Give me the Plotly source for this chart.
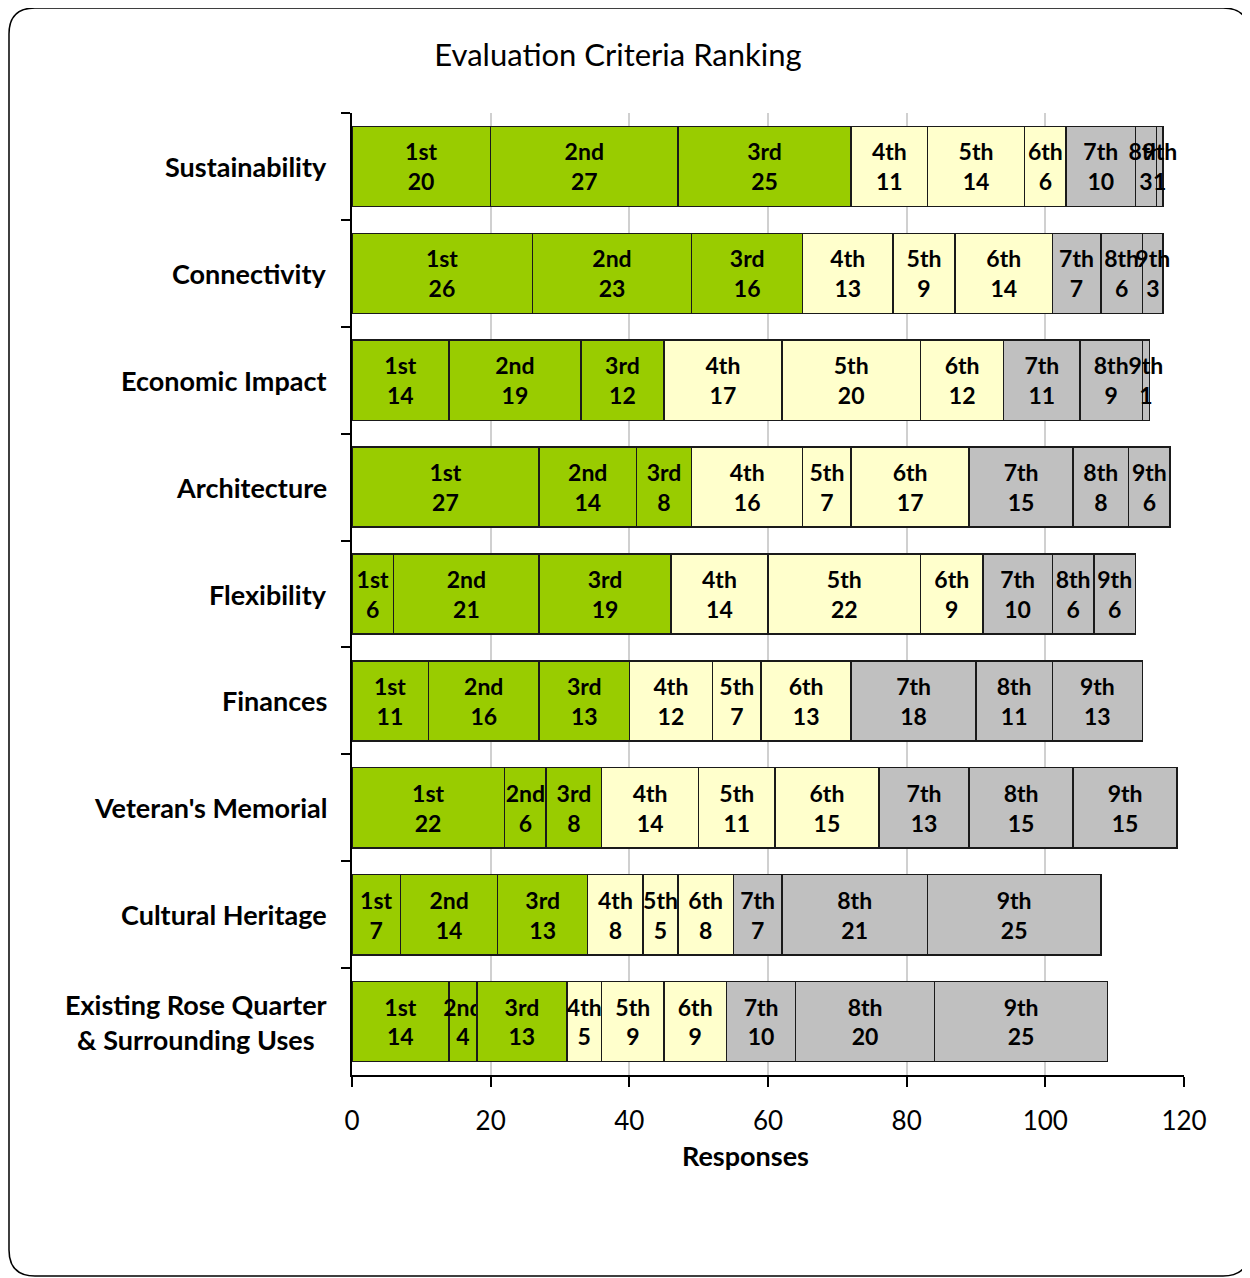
import plotly.graph_objects as go

categories = ["Sustainability", "Connectivity", "Economic Impact", "Architecture",
              "Flexibility", "Finances", "Veteran's Memorial", "Cultural Heritage",
              "Existing Rose Quarter<br>& Surrounding Uses"]
ranks = ["1st", "2nd", "3rd", "4th", "5th", "6th", "7th", "8th", "9th"]
# values[category][rank]
values = {
    "Sustainability":     [20, 27, 25, 11, 14, 6, 10, 3, 1],
    "Connectivity":       [26, 23, 16, 13, 9, 14, 7, 6, 3],
    "Economic Impact":    [14, 19, 12, 17, 20, 12, 11, 9, 1],
    "Architecture":       [27, 14, 8, 16, 7, 17, 15, 8, 6],
    "Flexibility":        [6, 21, 19, 14, 22, 9, 10, 6, 6],
    "Finances":           [11, 16, 13, 12, 7, 13, 18, 11, 13],
    "Veteran's Memorial": [22, 6, 8, 14, 11, 15, 13, 15, 15],
    "Cultural Heritage":  [7, 14, 13, 8, 5, 8, 7, 21, 25],
    "Existing Rose Quarter<br>& Surrounding Uses": [14, 4, 13, 5, 9, 9, 10, 20, 25],
}
rank_colors = ["#99CC00"] * 3 + ["#FFFFCC"] * 3 + ["#C0C0C0"] * 3
x_ticks = [0, 20, 40, 60, 80, 100, 120]

OFF = 8  # page body margin
W, H = 1250 - OFF, 1278 - OFF
L, R, T, B = 352 - OFF, 1184 - OFF, 113 - OFF, 1075 - OFF

FONT = "Lato"

fig = go.Figure()
for i, rk in enumerate(ranks):
    xs = [values[c][i] for c in categories]
    fig.add_trace(go.Bar(
        y=categories, x=xs, orientation="h", name=rk,
        marker=dict(color=rank_colors[i], line=dict(color="#1a1a1a", width=1.5)),
        text=[f"{rk}<br>{v}" for v in xs],
        textposition="inside", insidetextanchor="middle",
        textangle=0,
        textfont=dict(family=FONT, size=23, color="black", weight="bold"),
        constraintext="none", cliponaxis=False,
        hoverinfo="x+y+name",
    ))

def px2paper(x, y):
    # x, y in screenshot pixels
    x -= OFF
    y -= OFF
    return (x - L) / (R - L), (B - y) / (B - T)

def P(x, y):
    px, py = px2paper(x, y)
    return f"{px:.5f},{py:.5f}"

# rounded border
x0, y0, x1, y1, r = 9, 8, 1249, 1276, 26
path = (f"M {P(x0 + r, y0)} L {P(x1 - r, y0)} Q {P(x1, y0)} {P(x1, y0 + r)} "
        f"L {P(x1, y1 - r)} Q {P(x1, y1)} {P(x1 - r, y1)} "
        f"L {P(x0 + r, y1)} Q {P(x0, y1)} {P(x0, y1 - r)} "
        f"L {P(x0, y0 + r)} Q {P(x0, y0)} {P(x0 + r, y0)} Z")
shapes = [dict(type="path", xref="paper", yref="paper", path=path,
               line=dict(color="black", width=1.5), layer="below")]

annotations = []
n = len(categories)
for k, c in enumerate(categories):
    yc = 113 + (k + 0.5) * (1075 - 113) / n
    _, py = px2paper(0, yc)
    annotations.append(dict(xref="paper", yref="paper", x=px2paper(329, 0)[0], y=py,
                            text=f"<b>{c}</b>", showarrow=False, xanchor="right",
                            yanchor="middle", align="center",
                            font=dict(family=FONT, size=27, color="black")))
ax, ay = px2paper(745, 1155)
annotations.append(dict(xref="paper", yref="paper", x=ax, y=ay, text="<b>Responses</b>",
                        showarrow=False, xanchor="center", yanchor="middle",
                        font=dict(family=FONT, size=27, color="black")))

fig.update_layout(
    width=W, height=H,
    margin=dict(l=L, r=W - R, t=T, b=H - B, pad=0),
    barmode="stack", bargap=0.25,
    showlegend=False,
    plot_bgcolor="white", paper_bgcolor="white",
    title=dict(text="Evaluation Criteria Ranking", x=(618 - OFF) / W, xref="container",
               xanchor="center", y=1 - (55 - OFF) / H, yref="container", yanchor="middle",
               font=dict(family=FONT, size=31, color="black")),
    font=dict(family=FONT, color="black"),
    uniformtext=dict(minsize=23, mode="show"),
    shapes=shapes, annotations=annotations,
)
fig.update_xaxes(range=[0, 120], tickvals=x_ticks, showgrid=True, gridcolor="#D0D0D0", gridwidth=1.5,
                 showline=True, linecolor="black", linewidth=2, ticks="outside", ticklen=10,
                 tickcolor="black", tickwidth=2, zeroline=False, ticklabelstandoff=12,
                 tickfont=dict(family=FONT, size=26, color="black"))
fig.update_yaxes(autorange="reversed", showticklabels=False, showline=True, linecolor="black",
                 linewidth=2, ticks="outside", tickson="boundaries", ticklen=9, tickcolor="black",
                 tickwidth=2, showgrid=False)

fig.write_html("out.html")
